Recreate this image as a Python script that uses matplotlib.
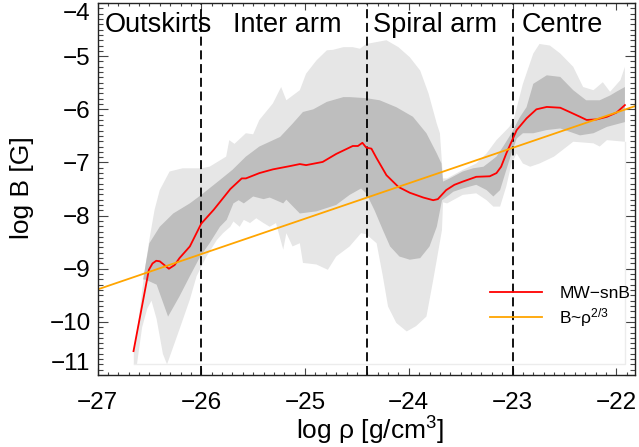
import numpy as np
import matplotlib.pyplot as plt
from matplotlib.ticker import MultipleLocator

plt.rcParams['font.family'] = ['Liberation Sans', 'DejaVu Sans']
plt.rcParams['mathtext.fontset'] = 'custom'
plt.rcParams['mathtext.rm'] = 'Liberation Sans'
plt.rcParams['mathtext.it'] = 'Liberation Sans:italic'

# red median curve (MW-snB)
red_x = [-26.653, -26.505, -26.47, -26.434, -26.40, -26.312, -26.257, -26.21, -26.11,
         -26.0, -25.88, -25.72, -25.61, -25.57, -25.44, -25.31, -25.15, -25.05, -24.99,
         -24.83, -24.70, -24.54, -24.49, -24.447, -24.41, -24.36, -24.31, -24.215,
         -24.10, -23.99, -23.86, -23.765, -23.72, -23.64, -23.56, -23.48, -23.35,
         -23.22, -23.155, -23.11, -23.06, -23.01, -22.96, -22.865, -22.77, -22.67,
         -22.54, -22.45, -22.35, -22.286, -22.19, -22.09, -21.997, -21.917]
red_y = [-10.55, -9.02, -8.90, -8.85, -8.86, -9.00, -8.93, -8.80, -8.58,
         -8.15, -7.89, -7.50, -7.30, -7.30, -7.20, -7.13, -7.07, -7.03, -7.05,
         -6.99, -6.84, -6.69, -6.69, -6.63, -6.72, -6.74, -6.92, -7.24,
         -7.46, -7.57, -7.66, -7.71, -7.69, -7.52, -7.42, -7.36, -7.27,
         -7.26, -7.20, -7.08, -6.83, -6.61, -6.39, -6.17, -6.00, -5.955,
         -5.97, -6.05, -6.14, -6.20, -6.19, -6.14, -6.06, -5.92]

# inner (dark) band
dark_up_x = [-26.56, -26.53, -26.50, -26.40, -26.27, -26.11, -26.00, -25.82, -25.70,
             -25.57, -25.44, -25.24, -25.12, -25.02, -24.92, -24.79, -24.63, -24.57,
             -24.41, -24.28, -24.12, -23.96, -23.83, -23.73, -23.685, -23.67, -23.605,
             -23.48, -23.38, -23.28, -23.22, -23.155, -23.09, -23.01, -22.93, -22.865,
             -22.80, -22.67, -22.54, -22.415, -22.29, -22.16, -22.06, -22.00, -21.917]
dark_up_y = [-9.2, -8.85, -8.52, -8.21, -7.96, -7.77, -7.61, -7.33, -7.14,
             -6.89, -6.70, -6.52, -6.27, -6.05, -6.00, -5.86, -5.77, -5.77,
             -5.79, -5.83, -5.96, -6.14, -6.45, -6.83, -7.02, -7.36, -7.30,
             -7.17, -7.11, -7.08, -6.99, -6.89, -6.70, -6.45, -6.15, -5.96,
             -5.52, -5.36, -5.39, -5.64, -5.83, -5.83, -5.74, -5.67, -5.58]
dark_lo_x = [-26.56, -26.53, -26.43, -26.32, -26.21, -26.11, -26.01, -25.92, -25.82,
             -25.755, -25.69, -25.64, -25.59, -25.50, -25.40, -25.34, -25.21, -25.18,
             -25.05, -24.89, -24.70, -24.57, -24.46, -24.41, -24.33, -24.25, -24.18,
             -24.09, -23.99, -23.89, -23.80, -23.73, -23.68, -23.65, -23.57, -23.48,
             -23.35, -23.25, -23.185, -23.12, -23.06, -23.01, -22.96, -22.90, -22.80,
             -22.67, -22.54, -22.35, -22.22, -22.09, -21.917]
dark_lo_y = [-9.2, -9.21, -9.30, -9.90, -9.52, -9.14, -8.77, -8.52, -8.21,
             -8.08, -7.77, -7.71, -7.77, -7.64, -7.69, -7.66, -7.77, -7.70,
             -7.96, -7.92, -7.80, -7.61, -7.49, -7.58, -7.90, -8.27, -8.58,
             -8.77, -8.83, -8.80, -8.58, -8.21, -7.71, -7.67, -7.55, -7.49,
             -7.42, -7.52, -7.64, -7.52, -7.14, -6.83, -6.55, -6.45, -6.45,
             -6.39, -6.36, -6.49, -6.45, -6.33, -6.24]

# outer (light) band
light_up_x = [-26.65, -26.60, -26.55, -26.50, -26.45, -26.40, -26.305, -26.18, -26.00,
              -25.92, -25.76, -25.73, -25.68, -25.57, -25.50, -25.44, -25.31, -25.23,
              -25.18, -25.05, -24.99, -24.89, -24.79, -24.73, -24.63, -24.54, -24.47,
              -24.41, -24.215, -24.10, -23.99, -23.89, -23.81, -23.73, -23.70, -23.67,
              -23.63, -23.48, -23.35, -23.25, -23.155, -23.09, -23.03, -22.99, -22.90,
              -22.80, -22.74, -22.64, -22.54, -22.415, -22.32, -22.22, -22.13, -22.06,
              -21.96, -21.917]
light_up_y = [-10.55, -9.9, -9.1, -8.45, -7.89, -7.52, -7.17, -7.11, -7.11,
              -7.08, -6.89, -6.58, -6.65, -6.45, -6.47, -6.20, -5.89, -5.58,
              -5.83, -5.64, -5.33, -5.08, -4.89, -4.88, -4.83, -4.83, -4.86,
              -4.77, -4.70, -4.83, -5.02, -5.27, -5.70, -6.27, -6.45, -7.30,
              -7.30, -7.14, -7.02, -6.83, -6.58, -6.45, -6.33, -6.20, -5.52,
              -4.95, -4.77, -4.80, -4.95, -5.20, -5.58, -5.64, -5.49, -5.67,
              -5.45, -5.20]
light_lo_x = [-26.65, -26.62, -26.57, -26.52, -26.48, -26.43, -26.37, -26.33, -26.21,
              -26.11, -26.045, -25.95, -25.85, -25.79, -25.72, -25.69, -25.63, -25.59,
              -25.53, -25.47, -25.40, -25.34, -25.28, -25.21, -25.18, -25.12, -25.05,
              -25.02, -24.89, -24.78, -24.70, -24.57, -24.46, -24.41, -24.31, -24.25,
              -24.20, -24.12, -24.02, -23.93, -23.83, -23.77, -23.73, -23.68, -23.67,
              -23.63, -23.48, -23.35, -23.25, -23.185, -23.12, -23.06, -23.01, -22.96,
              -22.90, -22.83, -22.74, -22.60, -22.415, -22.22, -22.16, -22.09, -21.917]
light_lo_y = [-10.8, -10.8, -10.1, -9.75, -9.6, -9.95, -10.6, -10.8, -10.14,
              -9.58, -9.14, -8.77, -8.46, -8.33, -8.21, -8.11, -8.21, -8.08,
              -8.14, -8.05, -8.14, -8.21, -8.14, -8.64, -8.33, -8.58, -8.52,
              -8.89, -8.92, -9.02, -8.77, -8.58, -8.33, -8.35, -8.52, -9.14,
              -9.71, -10.02, -10.18, -10.08, -9.90, -9.27, -8.83, -8.27, -7.75,
              -7.77, -7.61, -7.58, -7.71, -7.83, -7.83, -7.45, -7.02, -6.83,
              -7.02, -7.08, -7.02, -6.89, -6.61, -6.64, -6.70, -6.58, -6.61]
band_floor = -10.8

# B ~ rho^(2/3) reference line end points
ref_x = [-27.0, -21.82]
ref_y = [-9.39, -5.94]

# region boundaries and names
bounds = [-26.0, -24.4, -23.0]
regions = ['Outskirts', 'Inter arm', 'Spiral arm', 'Centre']
region_x = [-26.932, -25.698, -24.347, -22.913]

fig = plt.figure(figsize=(6.39, 4.47), dpi=100)
ax = fig.add_axes([0.1526, 0.161, 0.8411, 0.8322])

ax.fill(np.r_[light_up_x, light_lo_x[::-1]], np.r_[light_up_y, light_lo_y[::-1]],
        color='#e6e6e6', lw=0)
ax.fill(np.r_[dark_up_x, dark_lo_x[::-1]], np.r_[dark_up_y, dark_lo_y[::-1]],
        color='#bebebe', lw=0)
ax.plot([light_lo_x[0], light_lo_x[-1], light_lo_x[-1]],
        [band_floor, band_floor, light_lo_y[-1]], color='#ececec', lw=1)

for b in bounds:
    ax.axvline(b, color='black', lw=1.3, ls=(0, (5, 2.6)))

l1, = ax.plot(red_x, red_y, color='#ff0000', lw=1.3, label='MW\u2212snB')
l2, = ax.plot(ref_x, ref_y, color='#ffa500', lw=1.3, label='B~\u03c1$^{2/3}$')

for name, xr in zip(regions, region_x):
    ax.text(xr, -4.42, name, fontsize=19.5, ha='left', va='center')

ax.set_xlim(-27, -21.82)
ax.set_ylim(-11, -4)
ax.set_xticks(np.arange(-27, -21.9, 1))
ax.set_yticks(np.arange(-11, -3.9, 1))
ax.xaxis.set_minor_locator(MultipleLocator(0.1))
ax.yaxis.set_minor_locator(MultipleLocator(0.1))
ax.tick_params(which='both', direction='in', top=True, right=True, width=0.8,
               color='#444444', labelsize=17.5)
ax.tick_params(axis='x', which='major', length=5, pad=12)
ax.tick_params(axis='x', which='minor', length=2.5)
ax.tick_params(axis='y', which='major', length=7, pad=5)
ax.tick_params(axis='y', which='minor', length=3.6)
for s in ax.spines.values():
    s.set_linewidth(1.0)
    s.set_color('#222222')

fig.canvas.draw()
ylabs = ax.get_yticklabels()
ylabs[0].set_va('bottom')
ylabs[-1].set_va('top')

ax.set_xlabel('log \u03c1 [g/cm$^3$]', fontsize=19)
ax.set_ylabel('log B [G]', fontsize=19)
ax.xaxis.set_label_coords(0.507, -0.1505)
ax.xaxis.label.set_va('center')
ax.yaxis.set_label_coords(-0.14, 0.505)
ax.yaxis.label.set_va('center')

ax.legend(handles=[l1, l2], loc='upper left', bbox_to_anchor=(0.73, 0.24),
          frameon=False, fontsize=12.5, handlelength=3.0, handletextpad=1.0,
          labelspacing=0.3, borderpad=0, borderaxespad=0)

fig.savefig('out.png', dpi=100)
